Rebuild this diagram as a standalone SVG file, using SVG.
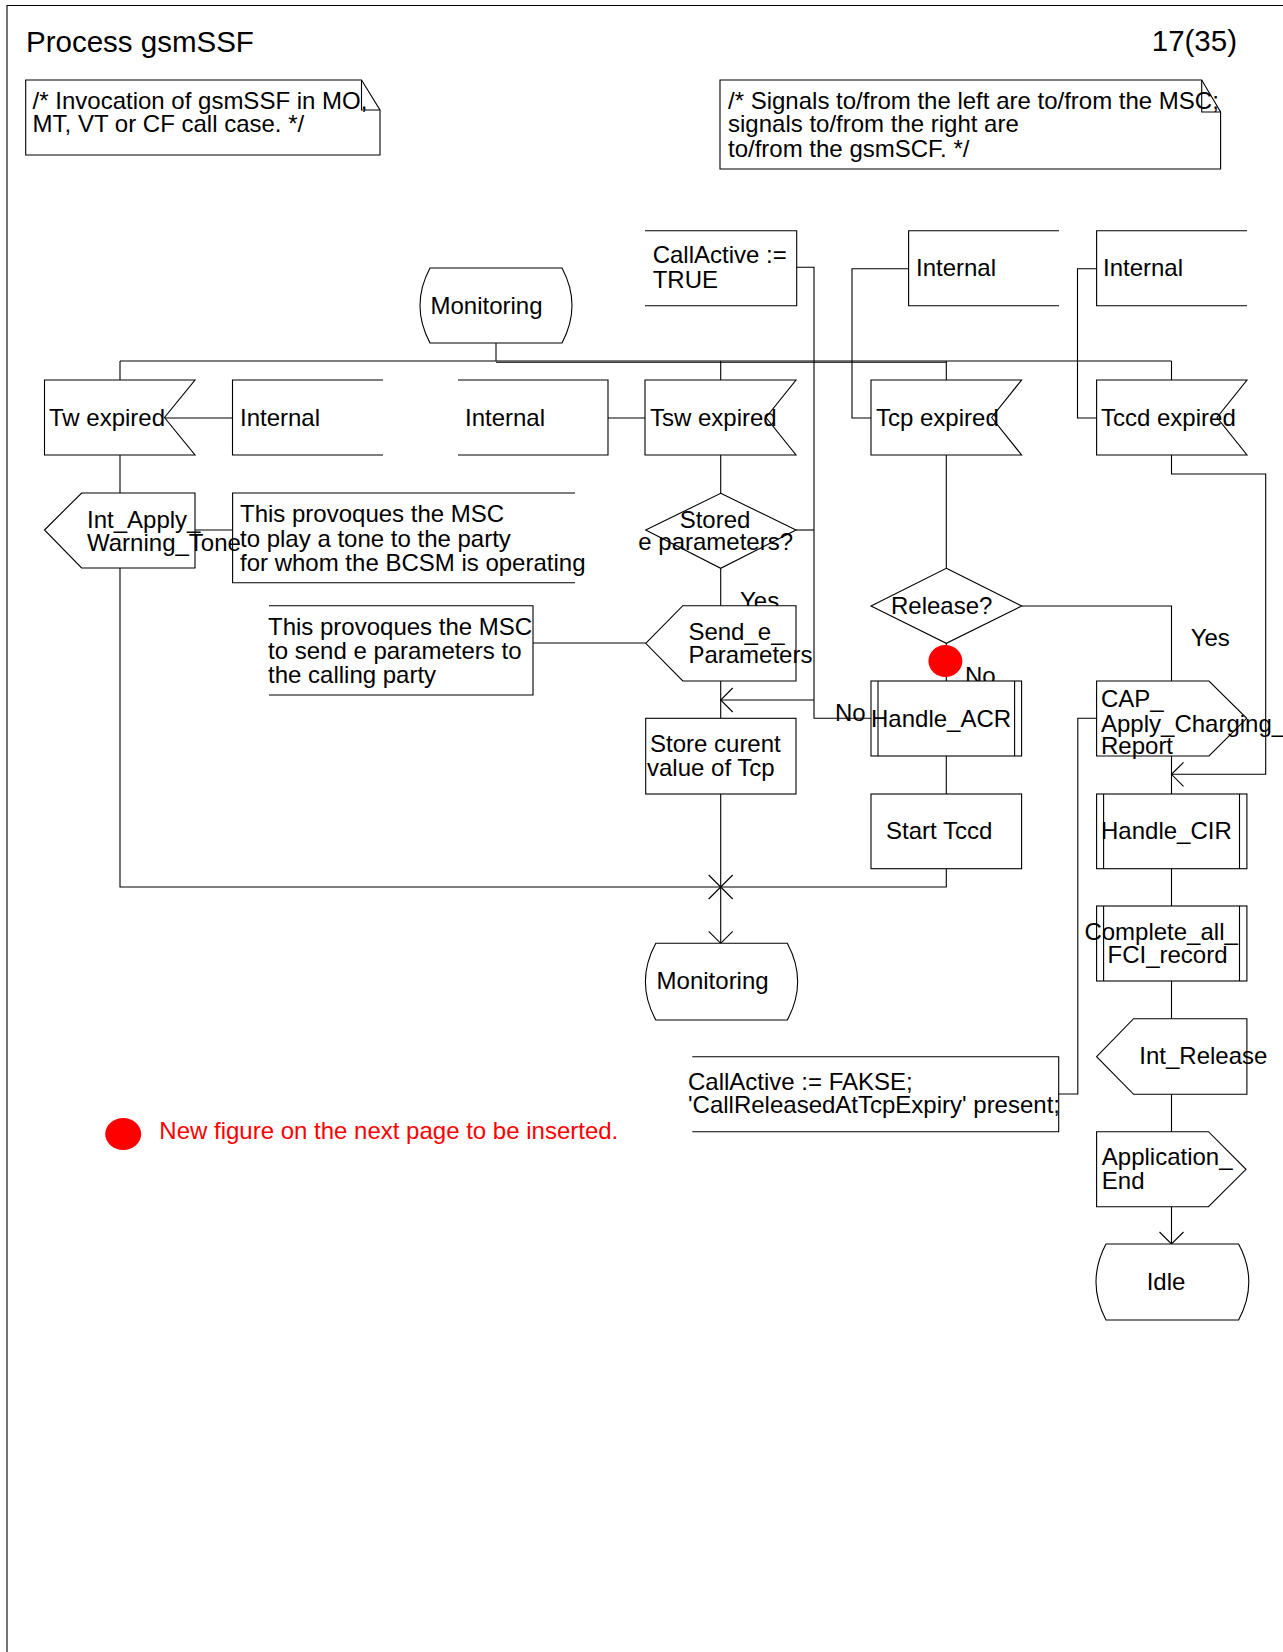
<svg xmlns="http://www.w3.org/2000/svg" width="1283" height="1652" viewBox="0 0 1283 1652">
<style>
  .s { fill: #fff; stroke: #000; stroke-width: 1.1; }
  .o { fill: none; stroke: #000; stroke-width: 1.1; }
  .c { fill: none; stroke: #000; stroke-width: 1.1; }
  text { font-family: "Liberation Sans", Arial, sans-serif; font-size: 24px; fill: #000; }
  .big { font-size: 29.5px; }
  .red { fill: #ff0000; }
</style>
<defs>
  <marker id="arr" markerUnits="userSpaceOnUse" viewBox="-14 -14 16 28" refX="0" refY="0" markerWidth="16" markerHeight="28" orient="auto">
    <path d="M -12 -12 L 0 0 L -12 12" fill="none" stroke="#000" stroke-width="1.1"/>
  </marker>
</defs>
<rect x="0" y="0" width="1283" height="1652" fill="#fff"/>
<path class="o" d="M 7 1652 L 7 5.5 L 1283 5.5"/>
<text class="big" x="26" y="52">Process gsmSSF</text>
<text class="big" x="1237" y="51" text-anchor="end">17(35)</text>

<g id="comment1">
  <path class="s" d="M 25.7 80 L 361.5 80 L 380 110 L 380 155 L 25.7 155 Z"/>
  <path class="o" d="M 361.5 80 L 361.5 110 L 380 110"/>
  <text x="32.6" y="108.8">/* Invocation of gsmSSF in MO,</text>
  <text x="32.6" y="131.5">MT, VT or CF call case. */</text>
</g>
<g id="comment2">
  <path class="s" d="M 720 80 L 1201.7 80 L 1220.6 112 L 1220.6 169 L 720 169 Z"/>
  <path class="o" d="M 1201.7 80 L 1201.7 112 L 1220.6 112"/>
  <text x="728" y="108.8">/* Signals to/from the left are to/from the MSC;</text>
  <text x="728" y="132.2">signals to/from the right are</text>
  <text x="728" y="157.2">to/from the gsmSCF. */</text>
</g>

<g id="connectors">
  <path class="c" d="M 496 343 L 496 361"/>
  <path class="c" d="M 120 361 L 1171.5 361"/>
  <path class="c" d="M 496 362.2 L 946.3 362.2"/>
  <path class="c" d="M 120 361 L 120 380 M 720.7 361 L 720.7 380 M 946.3 361 L 946.3 380 M 1171.5 361 L 1171.5 380"/>
  <path class="c" d="M 120 455 L 120 493"/>
  <path class="c" d="M 195 530 L 232.6 530"/>
  <path class="c" d="M 232.5 418 L 164.5 418"/>
  <path class="c" d="M 608 418 L 645 418"/>
  <path class="c" d="M 120 568 L 120 887 L 946.3 887 L 946.3 868.7"/>
  <path class="c" d="M 720.7 455 L 720.7 493.3"/>
  <path class="c" d="M 720.7 568.3 L 720.7 605.7"/>
  <path class="c" d="M 796 530 L 814 530"/>
  <path class="c" d="M 796.7 267.3 L 814 267.3 L 814 718.3 L 871 718.3"/>
  <path class="c" d="M 814 700 L 720.7 700" marker-end="url(#arr)"/>
  <path class="c" d="M 720.7 681 L 720.7 718.3"/>
  <path class="c" d="M 533 643 L 645.7 643"/>
  <path class="c" d="M 720.7 794 L 720.7 887"/>
  <path class="c" d="M 720.7 887 L 720.7 943.3" stroke-width="2" marker-end="url(#arr)"/>
  <path class="c" d="M 708.7 875 L 732.7 899 M 732.7 875 L 708.7 899"/>
  <path class="c" d="M 908.6 268.7 L 852 268.7 L 852 418 L 871 418"/>
  <path class="c" d="M 1096.6 268.7 L 1077.5 268.7 L 1077.5 418 L 1096.6 418"/>
  <path class="c" d="M 946.3 455 L 946.3 568.3"/>
  <path class="c" d="M 946.3 643.3 L 946.3 681"/>
  <path class="c" d="M 946.3 756 L 946.3 794"/>
  <path class="c" d="M 1021.6 606 L 1171.5 606 L 1171.5 681"/>
  <path class="c" d="M 1171.5 455 L 1171.5 474 L 1265.7 474 L 1265.7 774.3 L 1171.5 774.3" marker-end="url(#arr)"/>
  <path class="c" d="M 1171.5 756 L 1171.5 794"/>
  <path class="c" d="M 1171.5 868.7 L 1171.5 906"/>
  <path class="c" d="M 1171.5 981 L 1171.5 1018.7"/>
  <path class="c" d="M 1171.5 1094.3 L 1171.5 1131.7"/>
  <path class="c" d="M 1171.5 1206.7 L 1171.5 1244" marker-end="url(#arr)"/>
  <path class="c" d="M 1058.7 1094 L 1077.8 1094 L 1077.8 718.3 L 1096.6 718.3"/>
</g>

<g id="monitoring_top">
  <path class="s" d="M 430 268 L 562 268 Q 582 305.5 562 343 L 430 343 Q 410 305.5 430 268 Z"/>
  <text x="430.5" y="313.5">Monitoring</text>
</g>
<g id="callactive_true">
  <path class="o" d="M 645 230.7 L 796.7 230.7 L 796.7 305.7 L 645 305.7"/>
  <text x="652.7" y="262.8">CallActive :=</text>
  <text x="652.7" y="287.8">TRUE</text>
</g>
<g id="internal3">
  <path class="o" d="M 1059 230.7 L 908.6 230.7 L 908.6 305.7 L 1059 305.7"/>
  <text x="916" y="275.5">Internal</text>
</g>
<g id="internal4">
  <path class="o" d="M 1247 230.7 L 1096.6 230.7 L 1096.6 305.7 L 1247 305.7"/>
  <text x="1103" y="275.5">Internal</text>
</g>

<g id="tw_expired">
  <path class="s" d="M 44.5 380 L 195 380 L 164.5 417.5 L 195 455 L 44.5 455 Z"/>
  <text x="49" y="426">Tw expired</text>
</g>
<g id="internal1">
  <path class="o" d="M 383 380 L 232.5 380 L 232.5 455 L 383 455"/>
  <text x="240" y="426">Internal</text>
</g>
<g id="internal2">
  <path class="o" d="M 458 380 L 608 380 L 608 455 L 458 455"/>
  <text x="465" y="426">Internal</text>
</g>
<g id="tsw_expired">
  <path class="s" d="M 645 380 L 796 380 L 766 417.5 L 796 455 L 645 455 Z"/>
  <text x="650" y="426">Tsw expired</text>
</g>
<g id="tcp_expired">
  <path class="s" d="M 871 380 L 1021.6 380 L 991.6 417.5 L 1021.6 455 L 871 455 Z"/>
  <text x="876" y="426">Tcp expired</text>
</g>
<g id="tccd_expired">
  <path class="s" d="M 1096.6 380 L 1247 380 L 1217 417.5 L 1247 455 L 1096.6 455 Z"/>
  <text x="1101" y="426">Tccd expired</text>
</g>

<g id="int_apply_warning_tone">
  <path class="s" d="M 44.5 530 L 81.6 493 L 195 493 L 195 568 L 81.6 568 Z"/>
  <text x="87" y="527.5">Int_Apply_</text>
  <text x="87" y="550.5">Warning_Tone</text>
</g>
<g id="note_tone">
  <path class="o" d="M 575 493 L 232.6 493 L 232.6 582.7 L 575 582.7"/>
  <text x="240" y="522.2">This provoques the MSC</text>
  <text x="240" y="546.5">to play a tone to the party</text>
  <text x="240" y="570.5">for whom the BCSM is operating</text>
</g>
<g id="stored_e_parameters">
  <path class="s" d="M 720.7 493.3 L 796 530 L 720.7 568.3 L 645.7 530 Z"/>
  <text x="679.7" y="527.5">Stored</text>
  <text x="638.3" y="549.5">e parameters?</text>
</g>
<g id="label_yes1"><text x="740" y="609">Yes</text></g>
<g id="note_eparams">
  <path class="o" d="M 269 605.7 L 533 605.7 L 533 695 L 269 695"/>
  <text x="268" y="634.5">This provoques the MSC</text>
  <text x="268" y="658.5">to send e parameters to</text>
  <text x="268" y="683.2">the calling party</text>
</g>
<g id="send_e_parameters">
  <path class="s" d="M 645.7 643.3 L 682.8 605.7 L 796 605.7 L 796 681 L 682.8 681 Z"/>
  <text x="688.4" y="640">Send_e_</text>
  <text x="688.4" y="662.5">Parameters</text>
</g>
<g id="store_current">
  <rect class="s" x="645.7" y="718.3" width="150.3" height="75.7"/>
  <text x="650" y="752.2">Store curent</text>
  <text x="647" y="775.5">value of Tcp</text>
</g>
<g id="monitoring_bottom">
  <path class="s" d="M 655.8 943.3 L 787.3 943.3 Q 808 981.6 787.3 1020 L 655.8 1020 Q 635 981.6 655.8 943.3 Z"/>
  <text x="656.6" y="988.8">Monitoring</text>
</g>

<g id="release">
  <path class="s" d="M 946.3 568.3 L 1021.6 606 L 946.3 643.3 L 871 606 Z"/>
  <text x="891" y="614">Release?</text>
</g>
<g id="red_dot1"><ellipse cx="945.4" cy="661" rx="17" ry="16" fill="#ff0000"/></g>
<g id="label_no1"><text x="965" y="684">No</text></g>
<g id="label_no2"><text x="835" y="720.5">No</text></g>
<g id="handle_acr">
  <rect class="s" x="871" y="681" width="150.6" height="75"/>
  <path class="o" d="M 878 681 L 878 756 M 1014.6 681 L 1014.6 756"/>
  <text x="871" y="726.5">Handle_ACR</text>
</g>
<g id="start_tccd">
  <rect class="s" x="871" y="794" width="150.6" height="74.7"/>
  <text x="886" y="838.5">Start Tccd</text>
</g>
<g id="label_yes2"><text x="1190.7" y="645.5">Yes</text></g>
<g id="cap_acr">
  <path class="s" d="M 1096.6 681 L 1209 681 L 1246.7 718.3 L 1209 756 L 1096.6 756 Z"/>
  <text x="1101" y="707.2">CAP_</text>
  <text x="1101" y="732.2">Apply_Charging_</text>
  <text x="1101" y="753.5">Report</text>
</g>
<g id="handle_cir">
  <rect class="s" x="1096.6" y="794" width="150.3" height="74.7"/>
  <path class="o" d="M 1103.6 794 L 1103.6 868.7 M 1239.5 794 L 1239.5 868.7"/>
  <text x="1101" y="838.5">Handle_CIR</text>
</g>
<g id="complete_all_fci">
  <rect class="s" x="1096.6" y="906" width="150.3" height="75"/>
  <path class="o" d="M 1103.6 906 L 1103.6 981 M 1239.5 906 L 1239.5 981"/>
  <text x="1084.4" y="939.8">Complete_all_</text>
  <text x="1107.5" y="963.2">FCI_record</text>
</g>
<g id="int_release">
  <path class="s" d="M 1096.6 1056.7 L 1133.6 1018.7 L 1246.9 1018.7 L 1246.9 1094.3 L 1133.6 1094.3 Z"/>
  <text x="1139.3" y="1063.8">Int_Release</text>
</g>
<g id="callactive_fakse">
  <path class="o" d="M 692.3 1056.7 L 1058.7 1056.7 L 1058.7 1131.7 L 692.3 1131.7"/>
  <text x="688" y="1089.5">CallActive := FAKSE;</text>
  <text x="688" y="1112.8">'CallReleasedAtTcpExpiry' present;</text>
</g>
<g id="application_end">
  <path class="s" d="M 1096.6 1131.7 L 1208.5 1131.7 L 1246 1169.3 L 1208.5 1206.7 L 1096.6 1206.7 Z"/>
  <text x="1101.8" y="1164.8">Application_</text>
  <text x="1101.8" y="1188.8">End</text>
</g>
<g id="idle">
  <path class="s" d="M 1106 1244 L 1238.6 1244 Q 1259 1282 1238.6 1320 L 1106 1320 Q 1086 1282 1106 1244 Z"/>
  <text x="1146.7" y="1289.8">Idle</text>
</g>
<g id="note_red">
  <ellipse cx="123.2" cy="1134" rx="18" ry="16" fill="#ff0000"/>
  <text class="red" x="159.3" y="1138.8">New figure on the next page to be inserted.</text>
</g>
</svg>
